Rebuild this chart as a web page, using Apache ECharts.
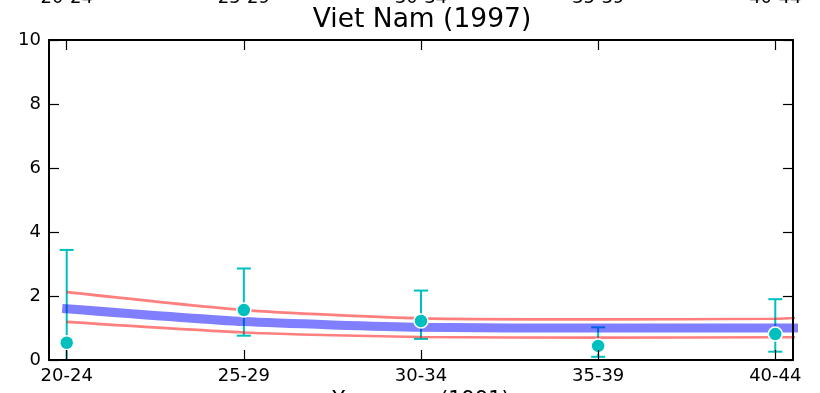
<!DOCTYPE html>
<html>
<head>
<meta charset="utf-8">
<script src="https://cdn.jsdelivr.net/npm/echarts@6/dist/echarts.min.js"></script>
<style>
  html, body { margin: 0; padding: 0; background: #fff; }
  #chart { width: 820px; height: 393px; }
</style>
</head>
<body>
<div id="chart"></div>
<script>
// ---- data ----
const categories = ['20-24', '25-29', '30-34', '35-39', '40-44'];
const categoryPos = [0, 1, 2, 3, 4];
// model curves (last entry: 45-49, continues past the plot edge)
const modelPos = [0, 1, 2, 3, 4, 5];
const modelMean = [1.60, 1.20, 1.02, 1.00, 1.00, 0.98];
const modelUpper = [2.12, 1.56, 1.30, 1.27, 1.29, 1.65];
const modelLower = [1.19, 0.86, 0.72, 0.70, 0.71, 0.71];
// observed points with error bars
const observed = [0.54, 1.56, 1.22, 0.44, 0.81];
const errLow = [-0.30, 0.76, 0.66, 0.10, 0.26];
const errHigh = [3.44, 2.86, 2.17, 1.02, 1.90];
const yTicks = [0, 2, 4, 6, 8, 10];

const FONT = 'DejaVu Sans';
const teal = '#00bfbf';

const pair = (xs, ys) => xs.map((x, i) => [x, ys[i]]);

const xAxisBase = {
  type: 'value',
  min: -0.1,
  max: 4.1,
  z: 10,
  splitLine: { show: false },
  axisLine: { show: true, onZero: false, lineStyle: { color: '#000', width: 2 } },
  axisTick: { show: true, inside: true, length: 10, customValues: categoryPos, lineStyle: { color: '#000', width: 1.2 } },
  axisLabel: {
    customValues: categoryPos,
    formatter: v => categories[Math.round(v)],
    fontFamily: FONT, fontSize: 18, color: '#000'
  }
};

const chart = echarts.init(document.getElementById('chart'), null, { renderer: 'canvas' });
chart.setOption({
  animation: false,
  backgroundColor: '#fff',
  title: {
    text: 'Viet Nam (1997)',
    left: 417,
    top: 2,
    textAlign: 'center',
    textStyle: { fontFamily: FONT, fontSize: 26.5, fontWeight: 'normal', color: '#000' }
  },
  grid: { left: 49, right: 27, top: 40, bottom: 33, containLabel: false, outerBoundsMode: 'none' },
  xAxis: [
    Object.assign({}, xAxisBase, {
      position: 'bottom',
      name: 'Years ago (1991)',
      nameLocation: 'middle',
      nameGap: 26,
      nameTextStyle: { fontFamily: FONT, fontSize: 21, color: '#000' },
      axisLabel: Object.assign({}, xAxisBase.axisLabel, { margin: 7 })
    }),
    Object.assign({}, xAxisBase, {
      position: 'top',
      axisLabel: Object.assign({}, xAxisBase.axisLabel, { margin: 33 })
    })
  ],
  yAxis: [
    {
      type: 'value', min: 0, max: 10, interval: 2, position: 'left', z: 10,
      splitLine: { show: false },
      axisLine: { show: true, onZero: false, lineStyle: { color: '#000', width: 2 } },
      axisTick: { show: true, inside: true, length: 10, lineStyle: { color: '#000', width: 1.2 } },
      axisLabel: { margin: 8, fontFamily: FONT, fontSize: 18, color: '#000',
                   formatter: v => String(yTicks[yTicks.indexOf(v)]) }
    },
    {
      type: 'value', min: 0, max: 10, interval: 2, position: 'right', z: 10,
      splitLine: { show: false },
      axisLine: { show: true, onZero: false, lineStyle: { color: '#000', width: 2 } },
      axisTick: { show: true, inside: true, length: 10, lineStyle: { color: '#000', width: 1.2 } },
      axisLabel: { show: false }
    }
  ],
  series: [
    {
      type: 'custom',
      name: 'errors',
      clip: true,
      z: 1,
      data: categoryPos.map((x, i) => [x, errLow[i], errHigh[i]]),
      encode: { x: 0, y: [1, 2] },
      renderItem: function (params, api) {
        const x = api.value(0);
        const lo = api.coord([x, api.value(1)]);
        const hi = api.coord([x, api.value(2)]);
        const half = 7;
        const style = { stroke: teal, lineWidth: 2, fill: null };
        return {
          type: 'group',
          children: [
            { type: 'line', shape: { x1: lo[0], y1: lo[1], x2: hi[0], y2: hi[1] }, style: style },
            { type: 'line', shape: { x1: lo[0] - half, y1: lo[1], x2: lo[0] + half, y2: lo[1] }, style: style },
            { type: 'line', shape: { x1: hi[0] - half, y1: hi[1], x2: hi[0] + half, y2: hi[1] }, style: style }
          ]
        };
      }
    },
    {
      type: 'line', name: 'upper', z: 2, smooth: 0.2, showSymbol: false, symbol: 'none',
      data: pair(modelPos, modelUpper),
      lineStyle: { color: 'rgba(255,0,0,0.5)', width: 2.6 }
    },
    {
      type: 'line', name: 'lower', z: 2, smooth: 0.2, showSymbol: false, symbol: 'none',
      data: pair(modelPos, modelLower),
      lineStyle: { color: 'rgba(255,0,0,0.5)', width: 2.6 }
    },
    {
      type: 'line', name: 'mean', z: 3, smooth: 0.2, showSymbol: false, symbol: 'none',
      data: pair(modelPos, modelMean),
      lineStyle: { color: 'rgba(0,0,255,0.5)', width: 9, cap: 'square' }
    },
    {
      type: 'scatter', name: 'observed', z: 4,
      data: pair(categoryPos, observed),
      symbolSize: 14,
      itemStyle: { color: teal, borderColor: '#fff', borderWidth: 1.5, opacity: 1 }
    }
  ]
});
</script>
</body>
</html>
